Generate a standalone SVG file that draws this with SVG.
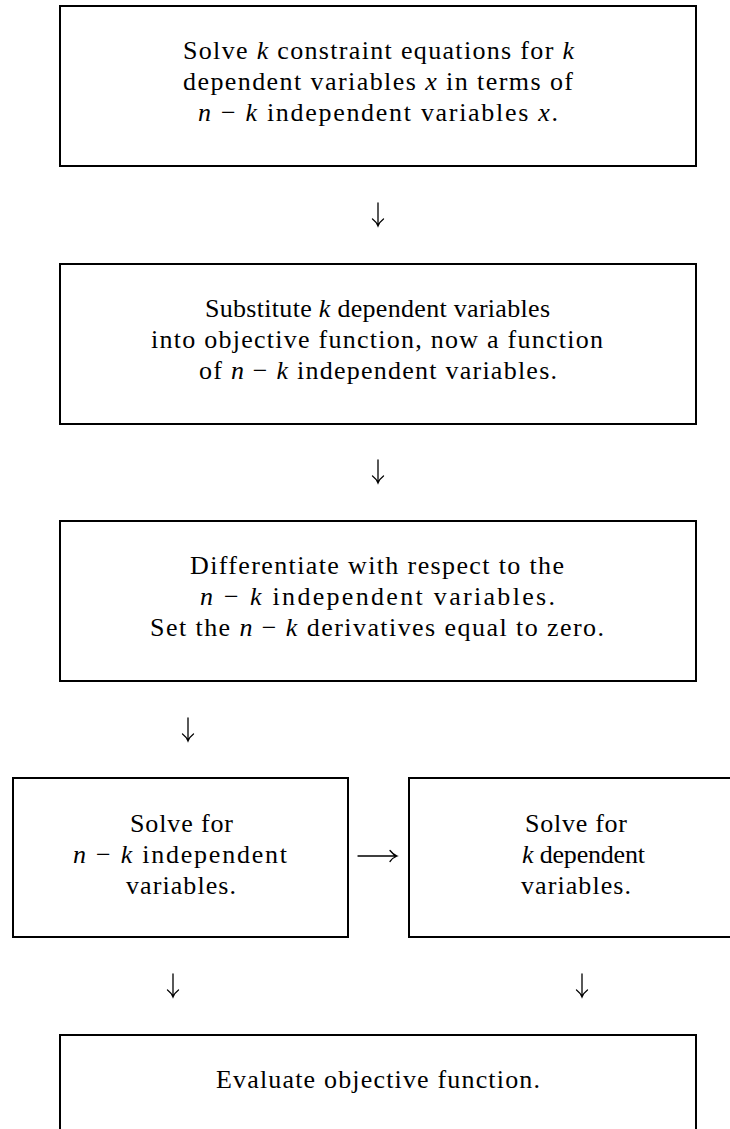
<svg xmlns="http://www.w3.org/2000/svg" width="730" height="1129" viewBox="0 0 730 1129">
<style>
.box{fill:none;stroke:#000;stroke-width:2}
.t{font-family:"Liberation Serif","Times New Roman",serif;font-size:26px;fill:#000}
.i{font-style:italic}
.arr{fill:none;stroke:#000;stroke-width:1.3;stroke-linecap:round}
</style>
<rect width="730" height="1129" fill="#fff"/>
<g id="n1">
<rect class="box" x="60" y="6" width="636" height="160"/>
<text class="t" x="183" y="59" textLength="391">Solve <tspan class="i">k</tspan> constraint equations for <tspan class="i">k</tspan></text>
<text class="t" x="183" y="90" textLength="390">dependent variables <tspan class="i">x</tspan> in terms of</text>
<text class="t" x="198" y="121" textLength="360"><tspan class="i">n</tspan> − <tspan class="i">k</tspan> independent variables <tspan class="i">x</tspan>.</text>
</g>
<g id="n2">
<rect class="box" x="60" y="264" width="636" height="160"/>
<text class="t" x="205" y="317" textLength="345">Substitute <tspan class="i">k</tspan> dependent variables</text>
<text class="t" x="151" y="348" textLength="452">into objective function, now a function</text>
<text class="t" x="199" y="379" textLength="358">of <tspan class="i">n</tspan> − <tspan class="i">k</tspan> independent variables.</text>
</g>
<g id="n3">
<rect class="box" x="60" y="521" width="636" height="160"/>
<text class="t" x="190" y="574" textLength="374">Differentiate with respect to the</text>
<text class="t" x="200" y="605" textLength="355"><tspan class="i">n</tspan> − <tspan class="i">k</tspan> independent variables.</text>
<text class="t" x="150" y="636" textLength="454">Set the <tspan class="i">n</tspan> − <tspan class="i">k</tspan> derivatives equal to zero.</text>
</g>
<g id="n4">
<rect class="box" x="13" y="778" width="335" height="159"/>
<text class="t" x="130" y="832" textLength="103">Solve for</text>
<text class="t" x="73" y="863" textLength="214"><tspan class="i">n</tspan> − <tspan class="i">k</tspan> independent</text>
<text class="t" x="126" y="894" textLength="110">variables.</text>
</g>
<g id="n5">
<rect class="box" x="409" y="778" width="340" height="159"/>
<text class="t" x="525" y="832" textLength="102">Solve for</text>
<text class="t" x="522" y="863" textLength="123"><tspan class="i">k</tspan> dependent</text>
<text class="t" x="521" y="894" textLength="110">variables.</text>
</g>
<g id="n6">
<path class="box" d="M60,1140 V1035 H696 V1140"/>
<text class="t" x="216" y="1088" textLength="324">Evaluate objective function.</text>
</g>
<g id="connectors">
<path class="arr" d="M378,203 V226 M372.5,219 Q376.5,222 378,226 Q379.5,222 383.5,219"/>
<path class="arr" d="M378,460 V483 M372.5,476 Q376.5,479 378,483 Q379.5,479 383.5,476"/>
<path class="arr" d="M188,718 V741 M182.5,734 Q186.5,737 188,741 Q189.5,737 193.5,734"/>
<path class="arr" d="M173,974 V997 M167.5,990 Q171.5,993 173,997 Q174.5,993 178.5,990"/>
<path class="arr" d="M582,974 V997 M576.5,990 Q580.5,993 582,997 Q583.5,993 587.5,990"/>
<path class="arr" d="M358,856 H397 M390,850.5 Q393,854.5 397,856 Q393,857.5 390,861.5"/>
</g>
</svg>
